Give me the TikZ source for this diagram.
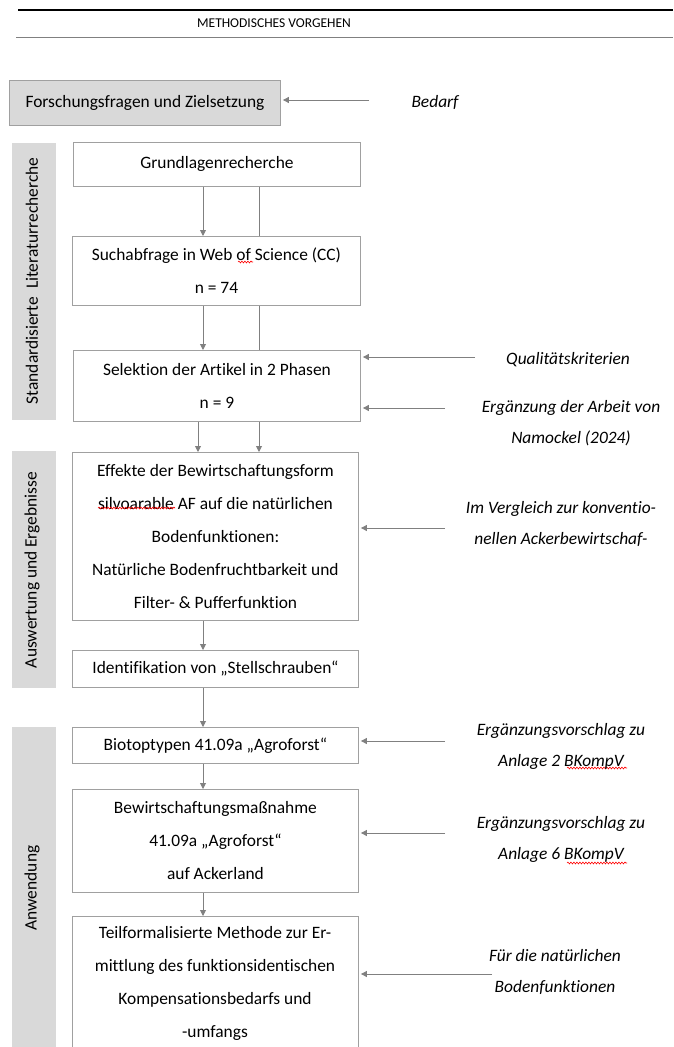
\documentclass[tikz,border=0pt]{standalone}
\usepackage{fontspec}
\setmainfont{Carlito}[Ligatures=NoCommon]
\usetikzlibrary{arrows.meta,decorations.pathmorphing}
\definecolor{lgray}{HTML}{D9D9D9}
\definecolor{bgray}{HTML}{A0A0A0}
\definecolor{agray}{HTML}{808080}
\tikzset{
  box/.style={draw=bgray, line width=0.9pt, anchor=north west, align=center, inner sep=0pt,
     font={\fontsize{17.4}{33}\selectfont}},
  side/.style={fill=lgray, draw=none, anchor=north west, inner sep=0pt},
  sidetext/.style={rotate=90, font={\fontsize{17.4}{20}\selectfont}},
  note/.style={align=center, font={\fontsize{17.4}{31}\selectfont\itshape}},
  arr/.style={draw=agray, line width=0.9pt, -{Triangle[width=6pt,length=6pt]}},
  ln/.style={draw=agray, line width=0.9pt},
  squig/.style={draw=red, line width=0.6pt, decorate, decoration={snake, amplitude=0.9pt, segment length=3pt}}
}
\begin{document}
\begin{tikzpicture}[x=1pt,y=-1pt]
\useasboundingbox (0,0) rectangle (673,1047);
% header
\draw[black, line width=1.6pt] (18,10) -- (673,10);
\node[font={\fontsize{13.5}{15}\selectfont}] (title) at (274,23) {METHODISCHES VORGEHEN};
\draw[agray, line width=1pt] (16,37) -- (673,37);
% side bars
\node[side, minimum width=44, minimum height=277] (s1) at (12,143) {};
\node[sidetext] (s1t) at (32,281) {Standardisierte\ \ Literaturrecherche};
\node[side, minimum width=44, minimum height=237] (s2) at (12,451) {};
\node[sidetext] (s2t) at (32,570) {Auswertung und Ergebnisse};
\node[side, minimum width=44, minimum height=340] (s3) at (12,727) {};
\node[sidetext] (s3t) at (32,888) {Anwendung};
% boxes
\node[box, fill=lgray, minimum width=271, minimum height=45] (ff) at (9,80) {Forschungsfragen und Zielsetzung};
\node[box, minimum width=287, minimum height=44] (gr) at (73,142) {Grundlagenrecherche};
\node[box, minimum width=288, minimum height=69] (su) at (72,236) {Suchabfrage in Web of Science (CC)\\ n = 74};
\node[box, minimum width=287, minimum height=71] (se) at (73,350) {Selektion der Artikel in 2 Phasen\\ n = 9};
\node[box, minimum width=286, minimum height=168] (ef) at (72,452) {Effekte der Bewirtschaftungsform\\ silvoarable AF auf die natürlichen\\ Bodenfunktionen:\\ Natürliche Bodenfruchtbarkeit und\\ Filter- \& Pufferfunktion};
\node[box, minimum width=286, minimum height=37] (id) at (72,650) {Identifikation von „Stellschrauben“};
\node[box, minimum width=286, minimum height=36] (bt) at (72,727) {Biotoptypen 41.09a „Agroforst“};
\node[box, minimum width=286, minimum height=103] (bw) at (72,789) {Bewirtschaftungsmaßnahme\\ 41.09a „Agroforst“\\ auf Ackerland};
\node[box, minimum width=286, minimum height=150, anchor=north west] (tf) at (72,916) {};
\node[align=center, font={\fontsize{17.4}{33}\selectfont}] (tft) at (215,983) {Teilformalisierte Methode zur Er-\\ mittlung des funktionsidentischen\\ Kompensationsbedarfs und\\ -umfangs};
% spell-check marks
\draw[squig] (238,262) -- (253,262);
\draw[squig] (98,508) -- (175,508);
\draw[squig] (567,768) -- (627,768);
\draw[squig] (567,863) -- (627,863);
% vertical connectors
\coordinate (c1) at (203,0);
\coordinate (c2) at (259,0);
\coordinate (c0) at (198,0);
\draw[arr] (gr.south -| c1) -- (su.north -| c1);
\draw[ln] (gr.south -| c2) -- (su.north -| c2);
\draw[arr] (su.south -| c1) -- (se.north -| c1);
\draw[ln] (su.south -| c2) -- (se.north -| c2);
\draw[arr] (se.south -| c0) -- (ef.north -| c0);
\draw[arr] (se.south -| c2) -- (ef.north -| c2);
\draw[arr] (ef.south -| c1) -- (id.north -| c1);
\draw[arr] (id.south -| c1) -- (bt.north -| c1);
\draw[arr] (bt.south -| c1) -- (bw.north -| c1);
\draw[arr] (bw.south -| c1) -- (tf.north -| c1);
% notes
\node[note] (n0) at (435,102) {Bedarf};
\node[note] (n1) at (568,360) {Qualitätskriterien};
\node[note] (n2) at (571,423) {Ergänzung der Arbeit von\\ Namockel (2024)};
\node[note] (n3) at (561,524) {Im Vergleich zur konventio-\\ nellen Ackerbewirtschaf-};
\node[note] (n4) at (561,746) {Ergänzungsvorschlag zu\\ Anlage 2 BKompV};
\node[note] (n5) at (561,839) {Ergänzungsvorschlag zu\\ Anlage 6 BKompV};
\node[note] (n6) at (555,972) {Für die natürlichen\\ Bodenfunktionen};
% horizontal arrows
\coordinate (a0) at (369,100);
\coordinate (a1) at (475,357);
\coordinate (a2) at (445,408);
\coordinate (a3) at (445,528);
\coordinate (a4) at (445,741);
\coordinate (a5) at (445,833);
\coordinate (a6) at (492,974);
\draw[arr] (a0) -- ([xshift=2pt]ff.east |- a0);
\draw[arr] (a1) -- ([xshift=2pt]se.east |- a1);
\draw[arr] (a2) -- ([xshift=2pt]se.east |- a2);
\draw[arr] (a3) -- ([xshift=2pt]ef.east |- a3);
\draw[arr] (a4) -- ([xshift=2pt]bt.east |- a4);
\draw[arr] (a5) -- ([xshift=2pt]bw.east |- a5);
\draw[arr] (a6) -- ([xshift=2pt]tf.east |- a6);
\end{tikzpicture}
\end{document}
